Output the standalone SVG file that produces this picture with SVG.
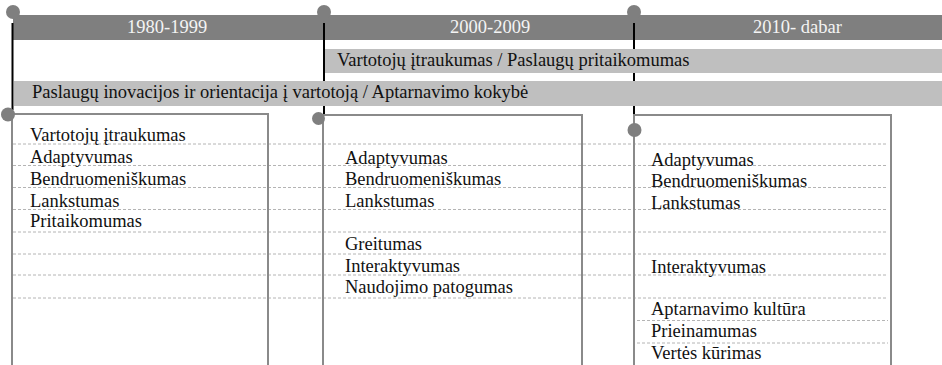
<svg xmlns="http://www.w3.org/2000/svg" width="942" height="365" viewBox="0 0 942 365">
  <style>
    .bar { fill: #7f7f7f; }
    .band { fill: #bfbfbf; }
    .dot { fill: #7f7f7f; }
    .axis { stroke: #000; stroke-width: 2; fill: none; }
    .box { fill: none; stroke: #8a8a8a; stroke-width: 2; }
    .row { stroke: #b4b4b4; stroke-width: 1; stroke-dasharray: 3 2; fill: none; }
    .hdr { font-family: "Liberation Serif", "Times New Roman", serif; font-size: 18.5px; fill: #f4f4f4; }
    .lbl { font-family: "Liberation Serif", "Times New Roman", serif; font-size: 18.5px; fill: #111; }
  </style>

  <rect width="942" height="365" fill="#fff"/>

  <!-- timeline header bar -->
  <g id="timeline">
    <rect class="bar" x="13" y="15" width="929" height="25"/>
    <circle class="dot" cx="13" cy="12" r="7"/>
    <circle class="dot" cx="324" cy="12" r="7"/>
    <circle class="dot" cx="634" cy="12" r="7"/>
    <text class="hdr" x="127" y="33">1980-1999</text>
    <text class="hdr" x="450" y="33">2000-2009</text>
    <text class="hdr" x="753" y="33">2010- dabar</text>
  </g>

  <!-- period markers -->
  <g id="connectors">
    <line class="axis" x1="12.5" y1="23" x2="12.5" y2="110"/>
    <line class="axis" x1="324" y1="23" x2="324" y2="114"/>
    <line class="axis" x1="634" y1="23" x2="634" y2="126"/>
  </g>

  <!-- spanning themes -->
  <g id="theme-engagement">
    <rect class="band" x="325" y="49" width="617" height="24"/>
    <text class="lbl" x="337" y="66">Vartotojų įtraukumas / Paslaugų pritaikomumas</text>
  </g>
  <g id="theme-innovation">
    <rect class="band" x="14" y="81" width="928" height="25"/>
    <text class="lbl" x="32" y="98">Paslaugų inovacijos ir orientacija į vartotoją / Aptarnavimo kokybė</text>
  </g>

  <!-- row guides -->
  <g id="rows">
    <line class="row" x1="13" y1="144" x2="888" y2="144"/>
    <line class="row" x1="13" y1="165.5" x2="888" y2="165.5"/>
    <line class="row" x1="13" y1="187.5" x2="888" y2="187.5"/>
    <line class="row" x1="13" y1="209.5" x2="888" y2="209.5"/>
    <line class="row" x1="13" y1="232" x2="888" y2="232"/>
    <line class="row" x1="13" y1="254" x2="888" y2="254"/>
    <line class="row" x1="13" y1="275" x2="888" y2="275"/>
    <line class="row" x1="13" y1="298" x2="888" y2="298"/>
    <line class="row" x1="637" y1="320.5" x2="888" y2="320.5"/>
    <line class="row" x1="637" y1="343" x2="888" y2="343"/>
  </g>

  <!-- 1980-1999 -->
  <g id="period-1980">
    <rect class="box" x="12" y="114" width="256" height="260"/>
    <circle class="dot" cx="8" cy="114.5" r="7"/>
    <text class="lbl" x="30" y="141">Vartotojų įtraukumas</text>
    <text class="lbl" x="30" y="163">Adaptyvumas</text>
    <text class="lbl" x="30" y="185">Bendruomeniškumas</text>
    <text class="lbl" x="30" y="207">Lankstumas</text>
    <text class="lbl" x="30" y="227">Pritaikomumas</text>
  </g>

  <!-- 2000-2009 -->
  <g id="period-2000">
    <rect class="box" x="323" y="115" width="259" height="260"/>
    <circle class="dot" cx="318.5" cy="118.5" r="6.5"/>
    <text class="lbl" x="345" y="164">Adaptyvumas</text>
    <text class="lbl" x="345" y="185">Bendruomeniškumas</text>
    <text class="lbl" x="345" y="207">Lankstumas</text>
    <text class="lbl" x="345" y="250">Greitumas</text>
    <text class="lbl" x="345" y="272">Interaktyvumas</text>
    <text class="lbl" x="345" y="293">Naudojimo patogumas</text>
  </g>

  <!-- 2010 - dabar -->
  <g id="period-2010">
    <rect class="box" x="634" y="115" width="257" height="260"/>
    <circle class="dot" cx="634.5" cy="130" r="7"/>
    <text class="lbl" x="651" y="166">Adaptyvumas</text>
    <text class="lbl" x="651" y="187">Bendruomeniškumas</text>
    <text class="lbl" x="651" y="209">Lankstumas</text>
    <text class="lbl" x="651" y="273">Interaktyvumas</text>
    <text class="lbl" x="651" y="315">Aptarnavimo kultūra</text>
    <text class="lbl" x="651" y="337">Prieinamumas</text>
    <text class="lbl" x="651" y="359">Vertės kūrimas</text>
  </g>
</svg>
